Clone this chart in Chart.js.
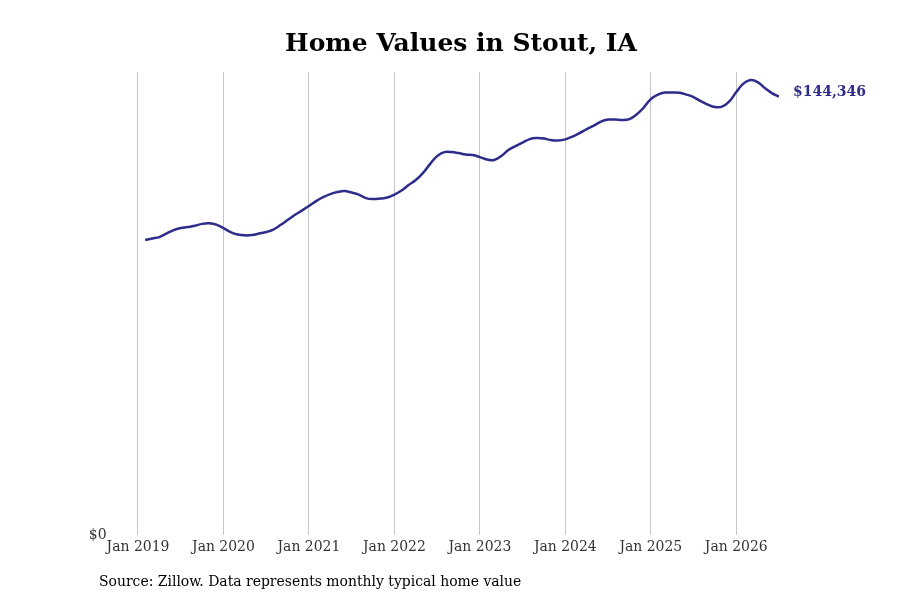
<!DOCTYPE html>
<html><head><meta charset="utf-8">
<script src="https://cdn.jsdelivr.net/npm/chart.js@4.4.1/dist/chart.umd.min.js"></script>
<style>html,body{margin:0;padding:0;background:#fff}#wrap{width:900px;height:600px;position:relative}</style>
</head><body><div id="wrap"><canvas id="c" width="900" height="600"></canvas></div>
<script>
const chartTitle = 'Home Values in Stout, IA';
const sourceNote = 'Source: Zillow. Data represents monthly typical home value';
const tickLabels = ['Jan 2019','Jan 2020','Jan 2021','Jan 2022','Jan 2023','Jan 2024','Jan 2025','Jan 2026'];
const firstYear = 2019;
const firstMonthIndex = 1; // February 2019 (months counted from Jan 2019)
const homeValues = [
  97144, 97637, 98131, 99284, 100437, 101095, 101424, 101852, 102478, 102643, 102248,
  101095, 99778, 98955, 98691, 98790, 99284, 99778, 100601, 102083, 103730, 105376, 106858,
  108340, 109986, 111303, 112291, 112950, 113279, 112785, 112127, 110974, 110645, 110809, 111139,
  112127, 113444, 115255, 116902, 119207, 122170, 124805, 126122, 126122, 125793, 125299, 125134,
  124475, 123652, 123488, 124805, 126781, 128098, 129250, 130403, 130732, 130567, 130074, 129909,
  130304, 131226, 132379, 133696, 134848, 136166, 136824, 136824, 136660, 136989, 138471, 140776,
  143575, 145057, 145716, 145716, 145650, 145057, 144233, 142916, 141764, 140940, 141105, 142752,
  145880, 148679, 149832, 149173, 147197, 145551, 144346
];
const lastValueLabel = '$144,346';

const points = homeValues.map((v, i) => ({ x: firstMonthIndex + i, y: v }));
const lineColor = '#2e2c8a';
const serifC = "'DejaVu Serif Condensed', 'DejaVu Serif', serif";

const textPlugin = {
  id: 'texts',
  afterDraw(chart) {
    const ctx = chart.ctx;
    ctx.save();
    ctx.fillStyle = '#000';
    ctx.font = "bold 25px 'DejaVu Serif', serif";
    ctx.textAlign = 'center';
    ctx.textBaseline = 'middle';
    ctx.fillText(chartTitle, 461, 44);
    ctx.font = "15.5px " + serifC;
    ctx.textAlign = 'left';
    ctx.fillText(sourceNote, 99, 582);
    const meta = chart.getDatasetMeta(0);
    const last = meta.data[meta.data.length - 1];
    ctx.fillStyle = lineColor;
    ctx.font = "bold 14px 'DejaVu Serif', serif";
    ctx.fillText(lastValueLabel, last.x + 14, last.y - 4);
    ctx.restore();
  }
};

new Chart(document.getElementById('c'), {
  type: 'line',
  data: { datasets: [{
    data: points,
    borderColor: lineColor,
    borderWidth: 2.5,
    pointRadius: 0,
    tension: 0.4,
    fill: false
  }]},
  options: {
    responsive: false,
    devicePixelRatio: 1,
    animation: false,
    layout: { padding: { top: 72, right: 121, bottom: 35, left: 0 } },
    plugins: { legend: { display: false }, tooltip: { enabled: false }, title: { display: false } },
    scales: {
      x: {
        type: 'linear',
        min: -4,
        max: 90,
        afterBuildTicks(scale) { scale.ticks = tickLabels.map((_, i) => ({ value: i * 12 })); },
        afterFit(scale) { scale.height = 30; },
        ticks: {
          autoSkip: false,
          maxRotation: 0,
          padding: 3,
          color: '#333',
          font: { family: serifC, size: 15.5 },
          callback: (v) => tickLabels[Math.round(v / 12)]
        },
        grid: { display: true, color: '#c4c4c4', lineWidth: 1, drawTicks: false },
        border: { display: false }
      },
      y: {
        min: 0,
        max: 152500,
        afterBuildTicks(scale) { scale.ticks = [{ value: 0 }]; },
        afterFit(scale) { scale.width = 109.5; },
        ticks: {
          padding: 3,
          color: '#333',
          font: { family: serifC, size: 15.5 },
          callback: (v) => '$' + v
        },
        grid: { display: false, drawTicks: false },
        border: { display: false }
      }
    }
  },
  plugins: [textPlugin]
});
</script></body></html>
